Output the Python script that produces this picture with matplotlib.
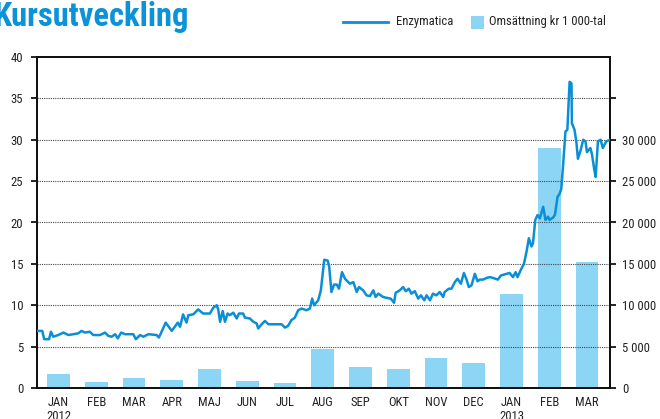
import matplotlib
matplotlib.use("Agg")
import matplotlib.pyplot as plt
from matplotlib.lines import Line2D
from matplotlib.patches import Rectangle
from matplotlib import font_manager as fm

# ---------------- data ----------------
months = ["JAN\n2012", "FEB", "MAR", "APR", "MAJ", "JUN", "JUL", "AUG",
          "SEP", "OKT", "NOV", "DEC", "JAN\n2013", "FEB", "MAR"]
turnover = [1700, 700, 1200, 1000, 2300, 850, 600, 4700,
            2500, 2300, 3600, 3000, 11400, 29000, 15200]

# price series: x in month units (0 = middle of Jan 2012)
price_x = [-0.57, -0.43, -0.38, -0.25, -0.20, -0.14, -0.01, 0.13, 0.26, 0.39,
           0.52, 0.61, 0.70, 0.83, 0.92, 1.10, 1.23, 1.32, 1.41, 1.50,
           1.57, 1.66, 1.76, 1.98, 2.05, 2.16, 2.25, 2.38, 2.60, 2.66,
           2.73, 2.84, 3.00, 3.16, 3.22, 3.30, 3.39, 3.44, 3.57, 3.70,
           3.83, 4.01, 4.10, 4.19, 4.23, 4.28, 4.35, 4.41, 4.48, 4.54,
           4.63, 4.72, 4.78, 4.89, 4.94, 5.07, 5.16, 5.25, 5.29, 5.38,
           5.47, 5.56, 5.91, 6.00, 6.08, 6.17, 6.26, 6.35, 6.44, 6.57,
           6.66, 6.72, 6.77, 6.88, 6.95, 7.00, 7.04, 7.13, 7.17, 7.23,
           7.30, 7.37, 7.43, 7.51, 7.59, 7.63, 7.72, 7.81, 7.90, 7.96,
           8.07, 8.16, 8.25, 8.34, 8.40, 8.47, 8.60, 8.69, 8.80, 8.89,
           8.93, 9.04, 9.13, 9.20, 9.28, 9.35, 9.44, 9.53, 9.60, 9.69,
           9.75, 9.84, 9.92, 10.01, 10.10, 10.19, 10.23, 10.34, 10.41, 10.50,
           10.57, 10.66, 10.74, 10.81, 10.87, 10.94, 11.03, 11.10, 11.16, 11.25,
           11.34, 11.43, 11.51, 11.64, 11.72, 11.87, 11.95, 12.04, 12.11, 12.16,
           12.25, 12.33, 12.40, 12.46, 12.53, 12.57, 12.63, 12.69, 12.75, 12.84,
           12.90, 12.97, 13.01, 13.10, 13.15, 13.22, 13.28, 13.32, 13.37, 13.43,
           13.48, 13.54, 13.59, 13.60, 13.67, 13.72, 13.76, 13.83, 13.90, 13.96,
           14.00, 14.09, 14.13, 14.19, 14.23, 14.29, 14.36, 14.42, 14.51, 14.56,
           14.62]
price_y = [6.9, 6.9, 5.9, 5.9, 6.8, 6.2, 6.4, 6.7, 6.4, 6.5,
           6.6, 6.9, 6.7, 6.8, 6.4, 6.4, 6.7, 6.3, 6.2, 6.5,
           6.0, 6.7, 6.5, 6.5, 5.9, 6.4, 6.2, 6.5, 6.4, 6.1,
           6.8, 7.9, 6.9, 7.9, 7.4, 8.9, 7.9, 8.8, 8.9, 9.5,
           9.0, 9.0, 9.7, 10.0, 9.5, 8.0, 9.3, 8.0, 9.0, 8.8,
           9.1, 8.4, 9.0, 9.0, 8.5, 8.4, 8.0, 7.8, 7.2, 7.7,
           8.1, 7.7, 7.7, 7.3, 7.5, 8.2, 8.5, 9.4, 9.6, 9.4,
           9.6, 10.8, 10.0, 10.6, 11.8, 13.9, 15.5, 15.4, 14.7, 11.6,
           12.5, 12.5, 12.0, 14.0, 13.2, 13.0, 12.6, 12.8, 11.6, 12.2,
           11.8, 11.2, 11.1, 11.8, 11.0, 11.4, 11.0, 10.9, 10.8, 10.3,
           11.5, 11.8, 12.2, 11.7, 12.0, 11.4, 11.7, 10.8, 11.2, 10.6,
           11.2, 10.6, 11.4, 11.2, 11.6, 11.0, 11.6, 12.0, 12.0, 12.8,
           13.2, 12.6, 13.9, 13.1, 12.2, 12.4, 13.8, 12.9, 13.1, 13.1,
           13.3, 13.4, 13.3, 13.1, 13.6, 13.8, 13.9, 13.4, 14.0, 13.4,
           14.3, 15.0, 16.5, 18.1, 17.1, 17.5, 20.3, 20.9, 20.5, 21.9,
           20.3, 20.7, 20.3, 20.6, 20.9, 23.1, 23.5, 24.1, 27.1, 31.0,
           31.2, 37.0, 36.8, 32.0, 31.2, 29.7, 27.7, 28.7, 30.0, 29.8,
           28.5, 29.0, 28.3, 26.5, 25.5, 29.8, 30.0, 29.0, 29.8, 29.9,
           30.0]

left_ticks = [0, 5, 10, 15, 20, 25, 30, 35, 40]
right_ticks = [0, 5000, 10000, 15000, 20000, 25000, 30000, 35000]
right_labels = ["0", "5 000", "10 000", "15 000", "20 000", "25 000", "30 000", ""]
series_names = ["Enzymatica", "Omsättning kr 1 000-tal"]
title = "Kursutveckling"

# ---------------- fonts ----------------
names = {f.name for f in fm.fontManager.ttflist}
family = "Liberation Sans"
for cand in ["Liberation Sans Narrow", "Roboto Condensed", "DejaVu Sans Condensed",
             "Open Sans Condensed", "Arial Narrow", "Liberation Sans"]:
    if cand in names:
        family = cand
        break
plt.rcParams["font.family"] = [family, "DejaVu Sans"]

LINE_C = "#0a8fd6"
BAR_C = "#8dd5f4"
TITLE_C = "#0a93d8"
TXT_C = "#222222"

fig = plt.figure(figsize=(6.6, 4.19), dpi=100)
W, H = 660.0, 419.0
renderer = fig.canvas.get_renderer()


def fit_size(text, target_px, weight="normal", base=10.0):
    t = fig.text(0, 0, text, fontsize=base, fontweight=weight)
    w = t.get_window_extent(renderer).width
    t.remove()
    return base * target_px / w


fs = fit_size("Enzymatica", 57)
fs_title = fit_size(title, 196, weight="bold")

ax = fig.add_axes([37/W, 1-388/H, (610-37)/W, (388-57)/H])
ax2 = ax.twinx()

# bars on the right axis
ax2.bar(range(len(months)), turnover, width=0.6, color=BAR_C, zorder=1)
ax2.set_ylim(0, 40000)
ax2.set_yticks(right_ticks)
ax2.set_yticklabels(right_labels)

# line on top
ax.set_zorder(ax2.get_zorder() + 1)
ax.patch.set_visible(False)
ax.plot(price_x, price_y, color=LINE_C, lw=1.8, zorder=3, solid_joinstyle="round")
ax.set_ylim(0, 40)
ax.set_xlim(-0.57, 14.61)
ax.set_yticks(left_ticks)
for v in left_ticks[1:-1]:
    ax.axhline(v, color="#444444", lw=0.8, ls=(0, (1, 1)), zorder=2)

ax.set_xticks(range(len(months)))
ax.set_xticklabels(months, fontsize=fs, color=TXT_C, linespacing=1.05)
ax.tick_params(axis="x", length=0, pad=6)
ax.tick_params(axis="y", length=4.5, width=1.2, labelsize=fs, labelcolor=TXT_C, pad=5.5)
ax2.tick_params(axis="y", length=4.5, width=1.2, labelsize=fs, labelcolor=TXT_C, pad=4.5)

for a in (ax, ax2):
    for s in a.spines.values():
        s.set_linewidth(1.4)
        s.set_color("#111111")

# title
fig.text(-7/W, 1-1/H, title, fontsize=fs_title, fontweight="bold",
         color=TITLE_C, ha="left", va="top")

# legend (drawn by hand to match the reference layout)
fig.add_artist(Line2D([343/W, 388/W], [1-22/H, 1-22/H], color=LINE_C, lw=2.0,
                      transform=fig.transFigure))
fig.text(396/W, 1-22/H, series_names[0], fontsize=fs, color=TXT_C,
         ha="left", va="center")
fig.add_artist(Rectangle((471/W, 1-29/H), 13/W, 13/H, facecolor=BAR_C,
                         edgecolor="none", transform=fig.transFigure))
fig.text(489/W, 1-22/H, series_names[1], fontsize=fs, color=TXT_C,
         ha="left", va="center")

fig.savefig("out.png", dpi=100)
